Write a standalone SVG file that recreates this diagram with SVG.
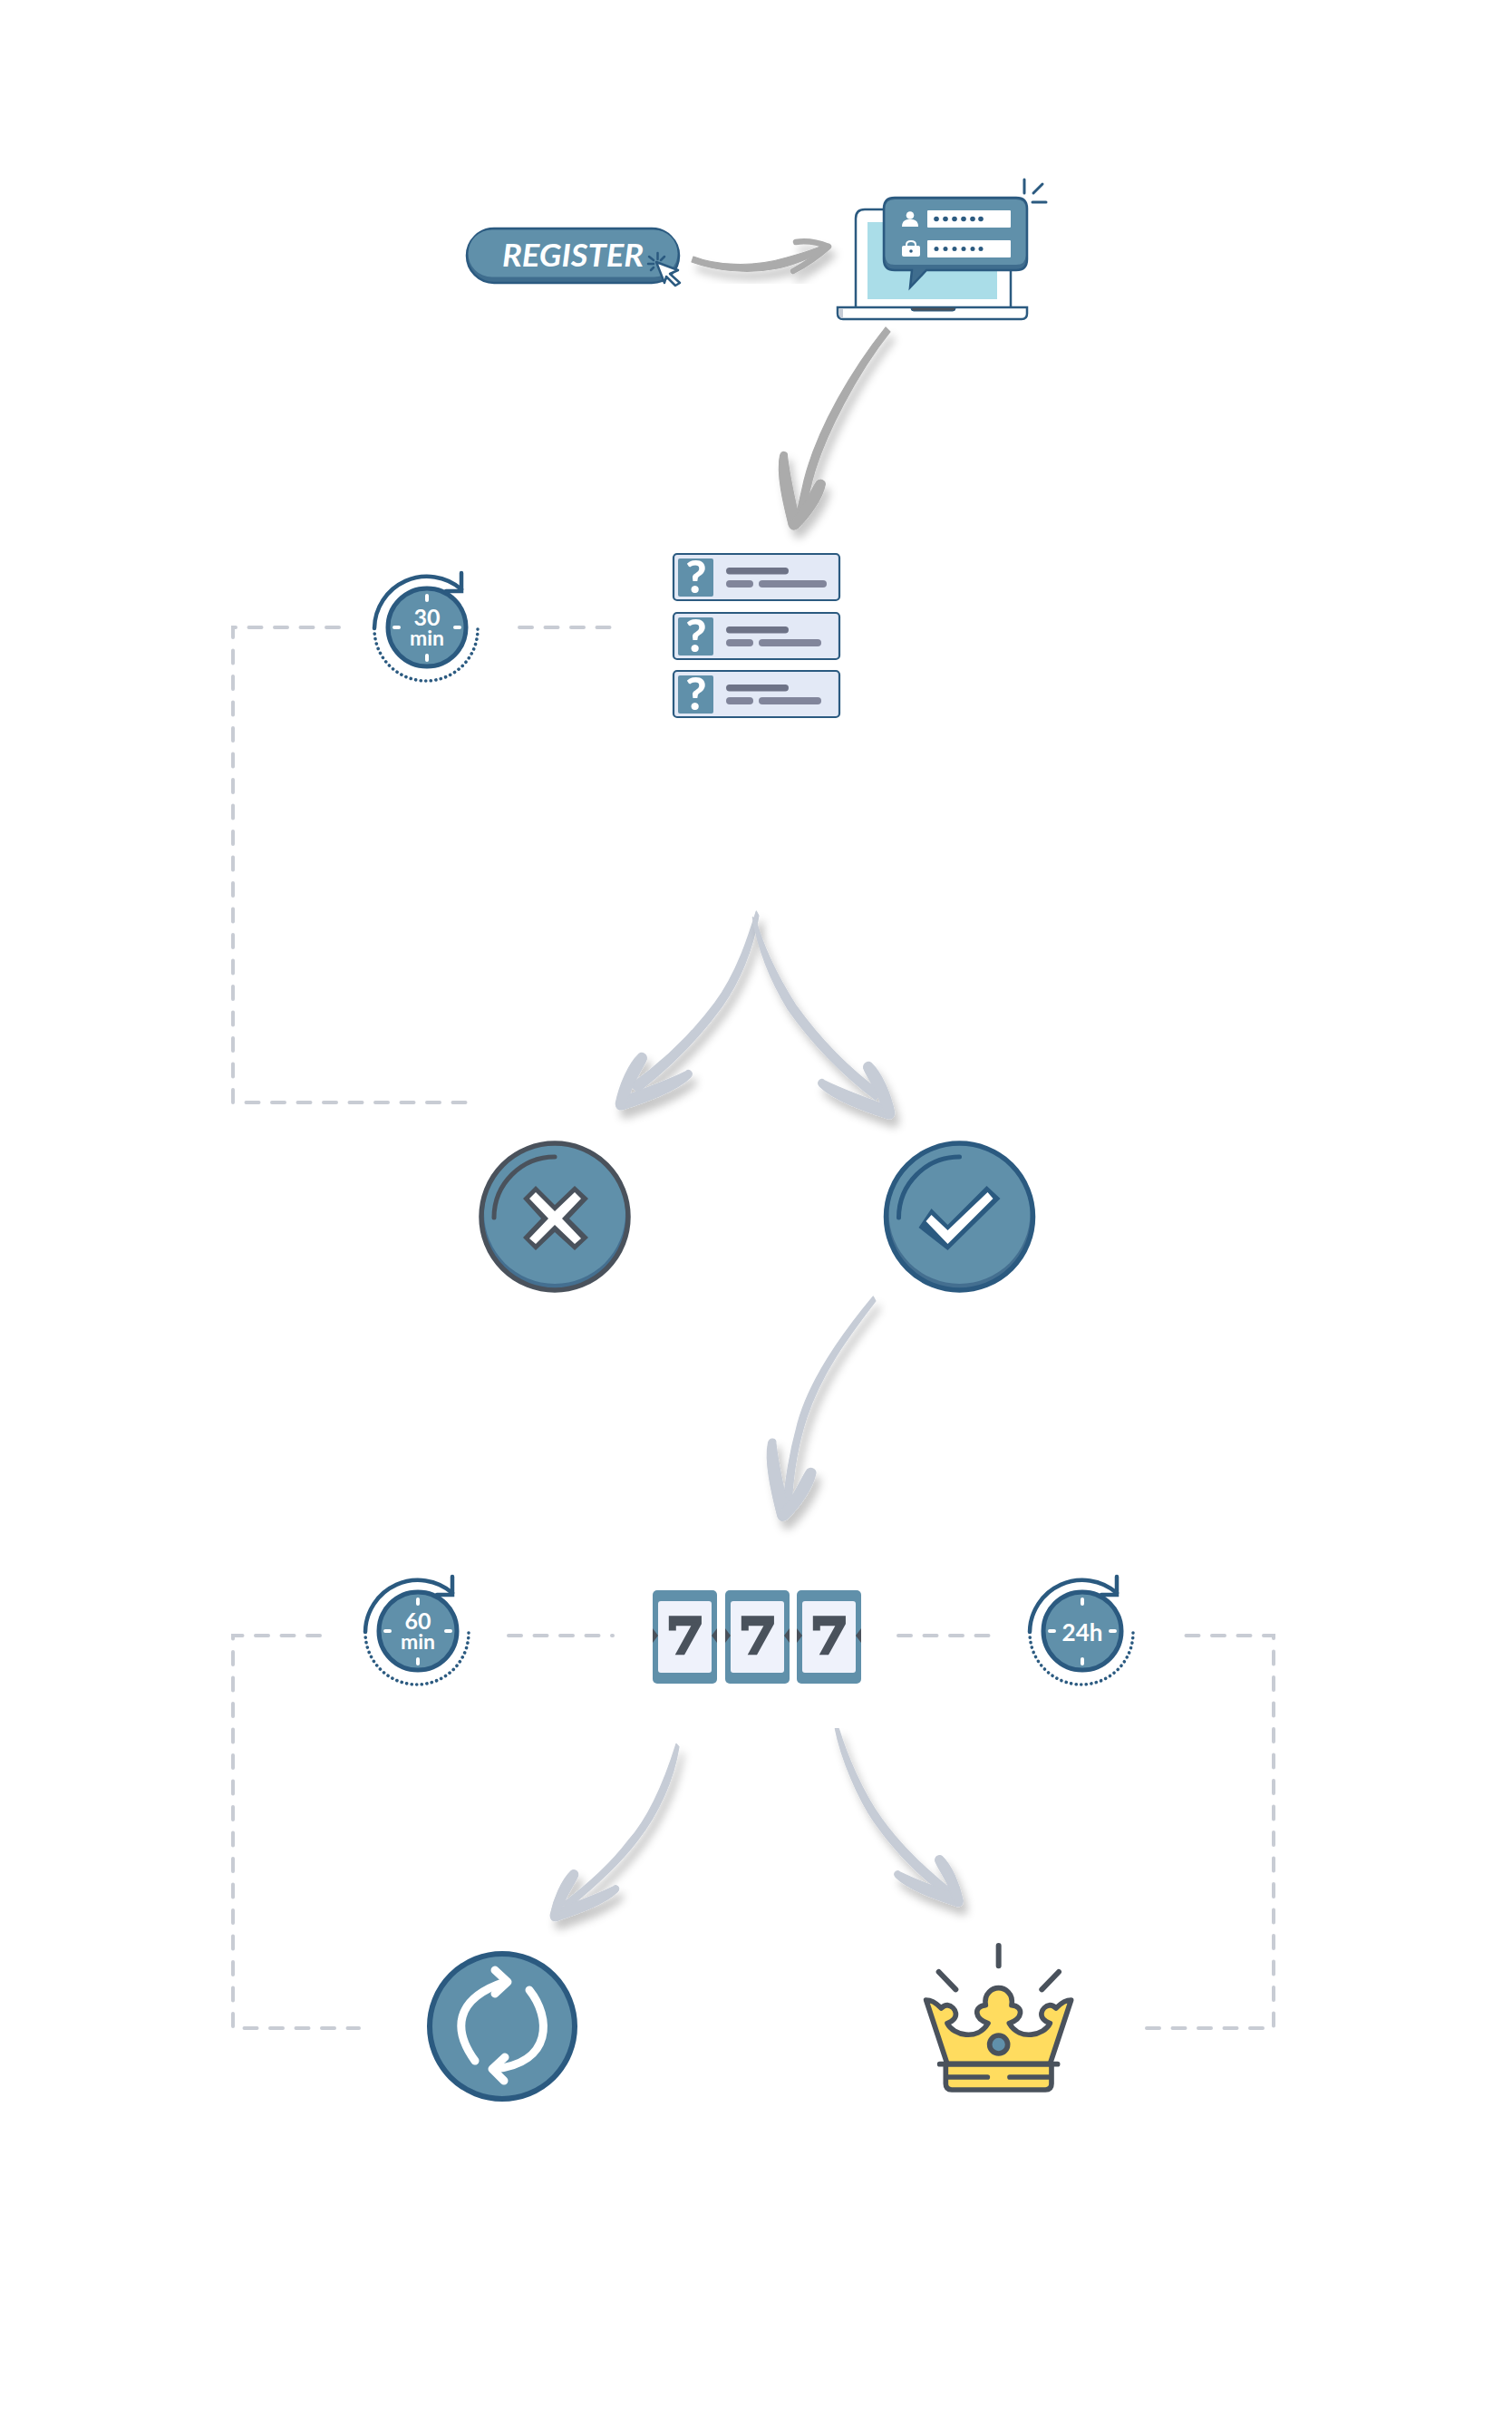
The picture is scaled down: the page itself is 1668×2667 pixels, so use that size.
<svg xmlns="http://www.w3.org/2000/svg" xmlns:xlink="http://www.w3.org/1999/xlink" width="1668" height="2667" viewBox="0 0 1668 2667">
<style>
text{font-family:"Lato","Liberation Sans",sans-serif;fill:#fff;text-anchor:middle}
.tk{stroke:#fff;stroke-width:4;stroke-linecap:round;fill:none}
.dash{fill:none;stroke:#c8ccd4;stroke-width:4;stroke-linecap:round;stroke-dasharray:14 14.5}
.ga{fill:#ababab;stroke:#ababab;stroke-width:1.200;stroke-linejoin:round}.sa{fill:#c6ccd6;stroke:#c6ccd6;stroke-width:1.200;stroke-linejoin:round}
.navy{fill:none;stroke:#2b5a80;stroke-linecap:round}
.dk{fill:none;stroke:#4a525c;stroke-linecap:round}
.l1{fill:#6e7387}.l2{fill:#81859b}
.card{fill:#e3e9f6;stroke:#2b5a80;stroke-width:2.2}
.q{fill:#6090aa}
.qt{font-size:50px;font-weight:900}
.reel{fill:#6090aa}.win{fill:#eff2fb}
.sv{font-family:"DejaVu Serif","Liberation Serif",serif;font-weight:700;font-size:54px;fill:#4a525c;stroke:#4a525c;stroke-width:3.500}
.tab{fill:#4a525c}
.dot{fill:#2b5a80}
.dg{font-size:25px;font-weight:700}
</style>
<defs>
<filter id="sh" x="-30%" y="-30%" width="170%" height="170%"><feDropShadow dx="5" dy="9" stdDeviation="5" flood-color="#000" flood-opacity=".22"/></filter>
<g id="hd">
<path d="M21.7-59.3C10-48.3 0-25-4-5C-4 1.7 0 3.3 5 1.7L15-25C20-35 28.3-48.3 30-53.3C30.7-59 25-61.7 21.7-59.3Z"/>
<path d="M5 1.7C30-6.7 63.3-18.3 78.3-33.3C82.7-38.3 77.3-43.3 73.3-40C56.7-31.7 30-21.7 11.7-15Z"/>
</g>
<g id="tm">
<circle r="43" cy="0" fill="#6090aa" stroke="#2b5a80" stroke-width="5"/>
<path class="navy" stroke-width="4.500" d="M-58 1A58 58 0 0 1 38-42"/>
<path class="navy" stroke-width="4.500" stroke-linecap="butt" d="M38-60V-40H21"/>
<path class="navy" stroke-width="3.600" stroke-dasharray=".1 5.500" d="M56 2A57 57 0 0 1-58 2"/>
<path class="tk" d="M0-35v5M0 31v5M-36 0h5M31 0h5"/>
</g>
</defs>

<g id="connectors">
<path class="dash" d="M374 692H257V1216H514"/>
<path class="dash" d="M573 692H676"/>
<path class="dash" d="M353 1804H257V2237H396"/>
<path class="dash" d="M561 1804H676"/>
<path class="dash" d="M991 1804H1097"/>
<path class="dash" d="M1265 2237H1405V1804H1299"/>

<g id="arrow-register" filter="url(#sh)" transform="translate(-2 0)">
<path class="ga" d="M767 283C790 292 830 296 870 284C885 280 900 275 912 270L915 275C895 285 875 293 860 296C825 303 790 298 765 289Z"/>
<path d="M880 267C892 265 906 268 916 272M877 299C890 292 905 282 916 272" fill="none" stroke="#ababab" stroke-width="6.500" stroke-linecap="round"/>
</g>
<g id="arrow-laptop" filter="url(#sh)" class="ga" transform="translate(-3 0)">
<path d="M980 361C945 405 905 470 890 530L881 570L889 570L899 530C912 480 950 410 985 366Z"/>
<use xlink:href="#hd" href="#hd" transform="translate(877 582) rotate(57.4) scale(-.95 .95)"/>
</g>
<g id="arrow-fork-left" filter="url(#sh)" class="sa">
<path transform="translate(640 970) scale(.3333)" stroke-width="3.600" d="M583 105C560 180 520 310 445 410C370 510 280 600 165 680L190 705C300 620 390 530 470 420C540 320 575 210 591 120Z"/>
<use xlink:href="#hd" href="#hd" transform="translate(683.3 1221.7)"/>
</g>
<g id="arrow-fork-right" filter="url(#sh)" class="sa" transform="translate(-4 0)">
<path transform="translate(640 970) scale(.3333)" stroke-width="3.600" d="M583 125C600 230 645 340 700 430C770 530 860 630 990 730L1010 705C900 625 800 520 725 415C665 320 620 230 592 130Z"/>
<use xlink:href="#hd" href="#hd" transform="translate(986.7 1231.7) scale(-1 1)"/>
</g>
<g id="arrow-slot" filter="url(#sh)" class="sa">
<path transform="translate(820 1400) scale(.3333)" stroke-width="3.600" d="M430 90C330 210 220 360 180 510C150 620 140 700 130 790L160 770C165 680 180 580 210 490C260 340 350 220 438 105Z"/>
<use xlink:href="#hd" href="#hd" transform="translate(861.7 1675) rotate(57.4) scale(-1 1)"/>
</g>
<g id="arrow-retry" filter="url(#sh)" class="sa">
<path transform="translate(590 1860) scale(.3333)" stroke-width="3.600" d="M468 190C440 280 390 420 310 510C250 590 170 660 90 720L110 735C190 670 280 590 340 510C410 420 460 310 477 200Z"/>
<use xlink:href="#hd" href="#hd" transform="translate(610.7 2116.7) scale(.9)"/>
</g>
<g id="arrow-crown" filter="url(#sh)" class="sa" transform="translate(-2 0)">
<path transform="translate(590 1860) scale(.3333)" stroke-width="3.600" d="M1000 140C1020 240 1075 370 1130 450C1200 550 1290 640 1385 705L1400 685C1310 615 1220 530 1155 440C1090 350 1040 230 1012 140Z"/>
<use xlink:href="#hd" href="#hd" transform="translate(1060.7 2100.7) scale(-.9 .9)"/>
</g>
</g>

<g id="register">
<rect x="515" y="252" width="234" height="60" rx="30" fill="#3f6d8e" stroke="#2b5a80" stroke-width="2.5"/>
<rect x="516.5" y="253.5" width="231" height="52" rx="26" fill="#6090aa"/>
<text x="632" y="294" font-size="35" font-weight="700" font-style="italic" textLength="156" lengthAdjust="spacingAndGlyphs">REGISTER</text>
<path d="M724 289L748 298L739 302L750 312L745 315L735 305L733 312Z" fill="#fff" stroke="#2b5a80" stroke-width="2.5" stroke-linejoin="round"/>
<path class="navy" stroke-width="2.5" d="M725.5 279v7M733 283l-4 4M715 291h6M716 283l5 4M718 298l3-3"/>
</g>

<g id="laptop" transform="translate(-2 0)">
<path d="M946 339V241Q946 231 956 231H1107Q1117 231 1117 241V339" fill="#fff" stroke="#2b5a80" stroke-width="2.5"/>
<rect x="959" y="245" width="143" height="85" fill="#aadde8"/>
<path d="M926 339H1135V346Q1135 352 1129 352H932Q926 352 926 346Z" fill="#fff" stroke="#2b5a80" stroke-width="2.5"/>
<path d="M927.5 340.500H932V351H930Q927.500 349 927.500 346Z" fill="#c6ccd6"/>
<path d="M1007 339H1056V340Q1056 343 1053 343H1010Q1007 343 1007 340Z" fill="#4a525c" stroke="#2b5a80" stroke-width="1"/>
<path d="M989 218H1123Q1135 218 1135 230V286Q1135 298 1123 298H1024L1006 317L1008 298H989Q977 298 977 286V230Q977 218 989 218Z" fill="#3f6d8e" stroke="#2b5a80" stroke-width="2.5"/>
<path d="M989 220H1123Q1133.500 220 1133.500 230V282Q1133.500 292 1123 292H989Q978.500 292 978.500 282V230Q978.500 220 989 220Z" fill="#6090aa"/>
<rect x="1025" y="232" width="92" height="19" rx="1" fill="#fff"/>
<rect x="1025" y="265" width="92" height="19" rx="1" fill="#fff"/>
<g class="dot"><circle cx="1035" cy="241.500" r="2.800"/><circle cx="1045" cy="241.500" r="2.800"/><circle cx="1055" cy="241.500" r="2.800"/><circle cx="1065" cy="241.500" r="2.800"/><circle cx="1075" cy="241.500" r="2.800"/><circle cx="1084" cy="241.500" r="2.800"/>
<circle cx="1035" cy="274.500" r="2.500"/><circle cx="1045" cy="274.500" r="2.500"/><circle cx="1055" cy="274.500" r="2.500"/><circle cx="1065" cy="274.500" r="2.500"/><circle cx="1075" cy="274.500" r="2.500"/><circle cx="1084" cy="274.500" r="2.500"/></g>
<circle cx="1006" cy="237.500" r="4.300" fill="#fff"/>
<path d="M997 250Q997 243 1003 242H1009Q1015 243 1015 250Z" fill="#fff"/>
<path d="M1002 272V270Q1002 266 1007 266Q1012 266 1012 270V272" fill="none" stroke="#fff" stroke-width="2"/>
<rect x="997" y="271" width="20" height="12" rx="2" fill="#fff"/>
<circle cx="1007" cy="277" r="1.800" fill="#2b5a80"/>
<path class="navy" stroke-width="3" d="M1132 198v15M1142 213l10-10M1141 223h15"/>
</g>

<g id="timer-30">
<use xlink:href="#tm" href="#tm" transform="translate(471 692)"/>
<text class="dg" x="471" y="690">30</text>
<text class="dg" x="471" y="712" style="font-size:23px">min</text>
</g>
<g id="questions" transform="translate(-2 0)">
<rect class="card" x="745" y="611" width="183" height="51" rx="4"/><rect class="q" x="750" y="616" width="39" height="42" rx="2"/><text class="qt" x="770" y="654">?</text><rect class="l1" x="803" y="626" width="69" height="7.500" rx="3.700"/><rect class="l2" x="803" y="640" width="30" height="8" rx="4"/><rect class="l2" x="839" y="640" width="75" height="8" rx="4"/>
<rect class="card" x="745" y="676" width="183" height="51" rx="4"/><rect class="q" x="750" y="681" width="39" height="42" rx="2"/><text class="qt" x="770" y="719">?</text><rect class="l1" x="803" y="691" width="69" height="7.500" rx="3.700"/><rect class="l2" x="803" y="705" width="30" height="8" rx="4"/><rect class="l2" x="839" y="705" width="69" height="8" rx="4"/>
<rect class="card" x="745" y="740" width="183" height="51" rx="4"/><rect class="q" x="750" y="745" width="39" height="42" rx="2"/><text class="qt" x="770" y="783">?</text><rect class="l1" x="803" y="755" width="69" height="7.500" rx="3.700"/><rect class="l2" x="803" y="769" width="30" height="8" rx="4"/><rect class="l2" x="839" y="769" width="69" height="8" rx="4"/>
</g>

<g id="fail" transform="translate(0 1)">
<circle cx="612" cy="1341" r="81" fill="#446f90"/>
<circle cx="612" cy="1337" r="78" fill="#6090aa"/>
<circle cx="612" cy="1341" r="81" fill="none" stroke="#4a525c" stroke-width="5.500"/>
<path class="dk" stroke-linecap="butt" stroke-width="5" d="M545 1342A67 67 0 0 1 612 1275"/>
<path fill="#4a525c" d="M612 1328L634 1307L649 1321L628 1343L649 1364L634 1378L612 1358L591 1378L577 1364L597 1343L577 1321L591 1307Z"/>
<path fill="#fff" d="M612 1335L634 1314L641 1321L620 1343L641 1365L634 1371L612 1350L591 1371L584 1365L605 1343L584 1321L591 1314Z"/>
</g>
<g id="pass" transform="translate(-3.500 1)">
<circle cx="1062" cy="1341" r="81" fill="#446f90"/>
<circle cx="1062" cy="1337" r="78" fill="#6090aa"/>
<circle cx="1062" cy="1341" r="81" fill="none" stroke="#2b5a80" stroke-width="5.500"/>
<path class="navy" stroke-linecap="butt" stroke-width="5" d="M995 1342A67 67 0 0 1 1062 1275"/>
<path fill="#2b5a80" d="M1092 1307L1107 1321L1049 1378L1017 1353L1031 1332L1049 1350Z"/>
<path fill="#fff" d="M1093 1314L1099 1321L1049 1371L1025 1346L1031 1339L1049 1356Z"/>
</g>

<g id="timer-60">
<use xlink:href="#tm" href="#tm" transform="translate(461 1799)"/>
<text class="dg" x="461" y="1797">60</text>
<text class="dg" x="461" y="1819" style="font-size:23px">min</text>
</g>
<g id="slot" transform="translate(-2 0)">
<rect class="reel" x="722" y="1754" width="71" height="103" rx="5"/><rect class="win" x="728" y="1766" width="59" height="79" rx="3"/><text class="sv" x="758" y="1824" textLength="42" lengthAdjust="spacingAndGlyphs">7</text>
<rect class="reel" x="802" y="1754" width="71" height="103" rx="5"/><rect class="win" x="808" y="1766" width="59" height="79" rx="3"/><text class="sv" x="838" y="1824" textLength="42" lengthAdjust="spacingAndGlyphs">7</text>
<rect class="reel" x="881" y="1754" width="71" height="103" rx="5"/><rect class="win" x="887" y="1766" width="59" height="79" rx="3"/><text class="sv" x="917" y="1824" textLength="42" lengthAdjust="spacingAndGlyphs">7</text>
<path class="tab" d="M722 1796L728 1804L722 1812ZM793 1796L787 1804L793 1812ZM802 1796L808 1804L802 1812ZM873 1796L867 1804L873 1812ZM881 1796L887 1804L881 1812ZM952 1796L946 1804L952 1812Z"/>
</g>
<g id="timer-24h">
<use xlink:href="#tm" href="#tm" transform="translate(1194 1799)"/>
<text class="dg" x="1194" y="1810" style="font-size:26px">24h</text>
</g>

<g id="retry">
<circle cx="554" cy="2235" r="80" fill="#6090aa" stroke="#2b5a80" stroke-width="6"/>
<g fill="none" stroke="#fff" stroke-width="9" stroke-linecap="round" stroke-linejoin="round">
<path d="M524 2273C500 2240 500 2205 557 2186"/>
<path d="M546 2173L560 2186L546 2199"/>
<path d="M584 2195C608 2225 610 2275 546 2282"/>
<path d="M557 2269L543 2282L556 2295"/>
</g>
</g>

<g id="crown" transform="translate(1010 2130) scale(.3333)">
<path d="M35 228C60 228 75 245 85 255C90 250 95 245 105 245C135 250 150 290 105 305C125 345 205 365 240 305C195 290 190 250 232 245C225 205 255 188 275 188C295 188 325 205 318 245C360 250 355 290 310 305C345 365 425 345 445 305C400 290 415 250 445 245C455 245 460 250 465 255C475 245 490 228 515 228L445 440H105Z" fill="#ffdc5f" stroke="#4a525c" stroke-width="17" stroke-linejoin="round"/>
<path d="M100 440H450V505Q450 525 430 525H120Q100 525 100 505Z" fill="#ffdc5f" stroke="#4a525c" stroke-width="17" stroke-linejoin="round"/>
<path class="dk" stroke-width="17" d="M80 440H470M105 483H238M312 483H445"/>
<circle cx="275" cy="375" r="30" fill="#6090aa" stroke="#4a525c" stroke-width="17"/>
<path class="dk" stroke-width="18" d="M275 48V115M77 135L133 193M474 135L418 193"/>
</g>
</svg>
